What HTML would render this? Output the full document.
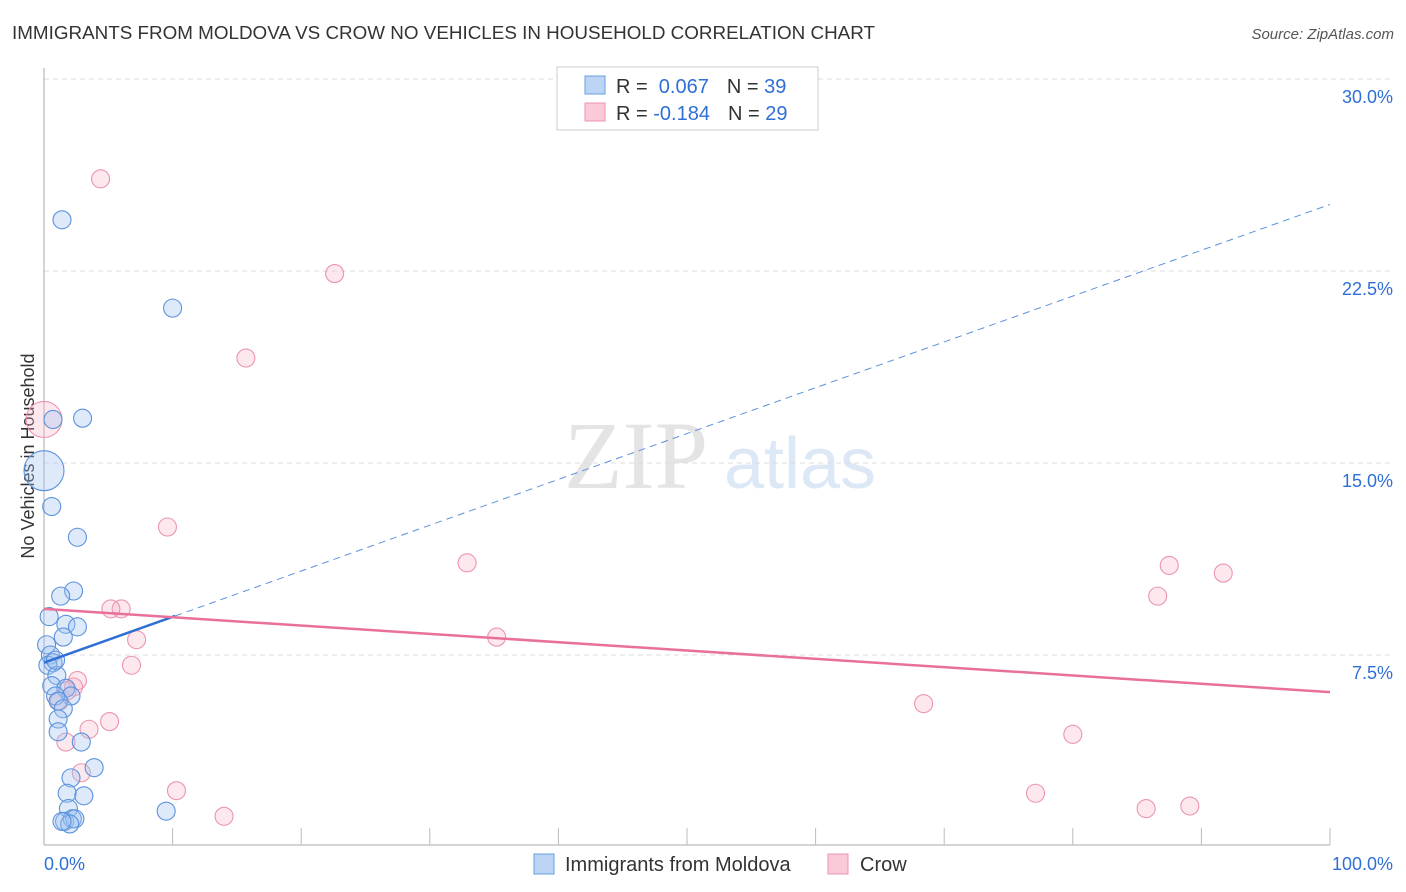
<!DOCTYPE html>
<html><head><meta charset="utf-8"><style>
body{margin:0;background:#fff;font-family:"Liberation Sans",sans-serif;}
#wrap{position:relative;width:1406px;height:892px;overflow:hidden;}
</style></head><body><div id="wrap">
<svg id="svg" width="1406" height="892" xmlns="http://www.w3.org/2000/svg">
<text x="12" y="39" font-size="18" fill="#333" textLength="863" lengthAdjust="spacingAndGlyphs">IMMIGRANTS FROM MOLDOVA VS CROW NO VEHICLES IN HOUSEHOLD CORRELATION CHART</text>
<text x="1394" y="39" font-size="15" fill="#555" text-anchor="end" font-style="italic">Source: ZipAtlas.com</text>
<text x="636" y="488" font-size="96" fill="#e4e4e4" text-anchor="middle" font-family="Liberation Serif">ZIP</text>
<text x="800" y="488" font-size="72" fill="#dde8f6" text-anchor="middle">atlas</text>
<text transform="translate(34,456) rotate(-90)" font-size="18" fill="#333" text-anchor="middle">No Vehicles in Household</text>
<g id="grid"></g><g id="axes"></g><g id="pts"></g><g id="lines"></g>
<g>
<rect x="557" y="67" width="261" height="63" fill="#fff" stroke="#ccc"/>
<rect x="585" y="76" width="20" height="18" fill="#bcd5f5" stroke="#6a9ee0"/>
<rect x="585" y="103" width="20" height="18" fill="#fbc9d8" stroke="#ec94b0"/>
<text x="616" y="93" font-size="20" fill="#333">R = <tspan fill="#2f6fd6">&#160;0.067</tspan><tspan dx="18">N = </tspan><tspan fill="#2f6fd6">39</tspan></text>
<text x="616" y="120" font-size="20" fill="#333">R = <tspan fill="#2f6fd6">-0.184</tspan><tspan dx="18">N = </tspan><tspan fill="#2f6fd6">29</tspan></text>
</g>
<g>
<rect x="534" y="854" width="20" height="20" fill="#bcd5f5" stroke="#6a9ee0"/>
<text x="565" y="871" font-size="20" fill="#333">Immigrants from Moldova</text>
<rect x="828" y="854" width="20" height="20" fill="#fbc9d8" stroke="#ec94b0"/>
<text x="860" y="871" font-size="20" fill="#333">Crow</text>
</g>
</svg>
<script>
const yTicks=[7.5,15,22.5,30];
const yTickLabels=["7.5%","15.0%","22.5%","30.0%"];
const blueX=[1.4,10.0,0.7,3.0,0,0.6,2.6,2.3,1.3,0.4,1.7,2.6,1.5,0.2,0.5,0.7,0.3,1.0,0.6,1.7,2.1,0.9,1.1,1.5,1.1,1.1,2.9,3.9,2.1,1.8,3.1,1.9,9.5,1.6,2.2,2.4,2.0,1.4,0.9];
const blueY=[24.5,21.05,16.7,16.75,14.7,13.3,12.1,10.0,9.8,9.0,8.7,8.6,8.2,7.9,7.5,7.2,7.1,6.7,6.3,6.2,5.9,5.9,5.7,5.4,5.0,4.5,4.1,3.1,2.7,2.1,2.0,1.5,1.4,1.0,1.1,1.1,0.9,1.0,7.3];
const blueR=[9,9,9,9,20,9,9,9,9,9,9,9,9,9,9,9,9,9,9,9,9,9,9,9,9,9,9,9,9,9,9,9,9,9,9,9,9,9,9];
const pinkX=[4.4,22.6,15.7,0,9.6,32.9,87.5,91.7,86.6,6.0,5.2,7.2,35.2,6.8,2.6,2.3,1.8,5.1,3.5,1.7,68.4,80.0,2.9,10.3,77.1,14.0,85.7,89.1,1.2];
const pinkY=[26.1,22.4,19.1,16.7,12.5,11.1,11.0,10.7,9.8,9.3,9.3,8.1,8.2,7.1,6.5,6.25,6.1,4.9,4.6,4.1,5.6,4.4,2.9,2.2,2.1,1.2,1.5,1.6,5.7];
const blueTrend=[7.2,25.1];
const blueSolidEnd=10.2;
const pinkTrend=[9.3,6.05];
const X=v=>44+v*12.86, Y=v=>847-v*25.6;
const NS="http://www.w3.org/2000/svg";
function mk(tag,attrs,parent){const e=document.createElementNS(NS,tag);for(const k in attrs)e.setAttribute(k,attrs[k]);document.getElementById(parent).appendChild(e);return e;}
yTicks.forEach((t,i)=>{
 const l=mk('line',{x1:44,x2:1394,y1:Y(t),y2:Y(t),stroke:'#ddd','stroke-dasharray':'5,4'},'grid');
 
 
 const tx=mk('text',{x:1393,y:Y(t)+24,'font-size':18,fill:'#2f6fd6','text-anchor':'end'},'grid');
 tx.textContent=yTickLabels[i];
 
 
});
const ax=mk('line',{x1:44,x2:44,y1:68,y2:845,stroke:'#aaa'},'axes');


const bx=mk('line',{x1:44,x2:1330,y1:845,y2:845,stroke:'#aaa'},'axes');


for(let i=1;i<=10;i++){const t=mk('line',{x1:X(i*10),x2:X(i*10),y1:828,y2:845,stroke:'#bbb'},'axes');
 
 }
const x0=mk('text',{x:44,y:870,'font-size':18,fill:'#2f6fd6'},'axes');x0.textContent='0.0%';


const x1=mk('text',{x:1393,y:870,'font-size':18,fill:'#2f6fd6','text-anchor':'end'},'axes');x1.textContent='100.0%';


pinkX.forEach((v,i)=>{const c=mk('circle',{cx:X(v),cy:Y(pinkY[i]),r:i==3?18:9,fill:'rgba(248,180,200,0.3)',stroke:'#ec94b0','stroke-width':1.1},'pts');
 
 });
blueX.forEach((v,i)=>{const c=mk('circle',{cx:X(v),cy:Y(blueY[i]),r:blueR[i],fill:'rgba(160,195,240,0.35)',stroke:'#5b92dc','stroke-width':1.1},'pts');
 
 });
const bAt=x=>blueTrend[0]+(blueTrend[1]-blueTrend[0])*x/100;
const bs=mk('line',{x1:X(0),y1:Y(bAt(0)),x2:X(blueSolidEnd),y2:Y(bAt(blueSolidEnd)),stroke:'#2f6fd6','stroke-width':2.5},'lines');


const bd=mk('line',{x1:X(blueSolidEnd),y1:Y(bAt(blueSolidEnd)),x2:X(100),y2:Y(bAt(100)),stroke:'#5b92dc','stroke-width':1,'stroke-dasharray':'7,5'},'lines');


const pl=mk('line',{x1:X(0),y1:Y(pinkTrend[0]),x2:X(100),y2:Y(pinkTrend[1]),stroke:'#e8709a','stroke-width':2.5},'lines');


</script>
</div></body></html>
